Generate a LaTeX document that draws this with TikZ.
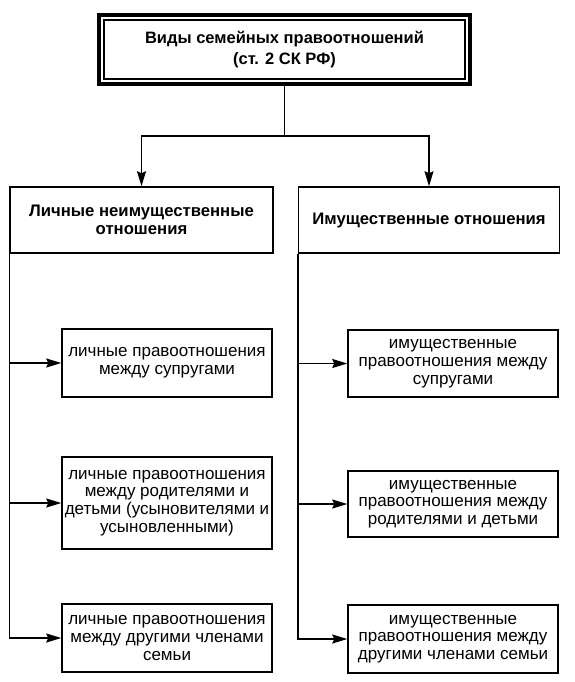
\documentclass[tikz,border=0pt]{standalone}
\usepackage{fontspec}
\setmainfont{Liberation Sans}
\usepackage{tikz}
\usetikzlibrary{arrows.meta,positioning}
\tikzset{
	>={Stealth[length=15pt,width=9pt,inset=2pt]}, % solid arrow heads
	root/.style={draw, line width=4pt, minimum width=371pt, minimum height=69pt,
		inner sep=0pt, align=center, font=\bfseries\fontsize{16.5}{21}\selectfont},
	kind/.style={draw, minimum height=66pt, inner sep=0pt,
		align=center, font=\bfseries\fontsize{16.7}{18.5}\selectfont},
	leaf/.style={draw, minimum width=210pt, inner sep=0pt,
		align=center, font=\fontsize{17}{17.8}\selectfont},
}

\begin{document}
\begin{tikzpicture}[x=1pt, y=1pt, line width=1.5pt]
      \useasboundingbox (0,0) rectangle (575,-682);

      \node[root] (title) at (284.5,-49.5) {Виды семейных правоотношений\\(ст. 2 СК РФ)};
      \draw[line width=1.1pt] ([shift={(7pt,-7pt)}]title.north west) rectangle ([shift={(-7pt,7pt)}]title.south east);

      \node[kind, minimum width=263pt] (lichn) at (141.5,-220) {Личные неимущественные\\отношения};
      \node[kind, minimum width=261pt, right=24pt of lichn] (imush) {Имущественные отношения};

      % personal relations
      \node[leaf, minimum height=68pt] (l1) at (167,-363) {личные правоотношения\\между супругами};
      \node[leaf, minimum height=92pt] (l2) at (167,-503) {личные правоотношения\\между родителями и\\детьми (усыновителями и\\усыновленными)};
      \node[leaf, minimum height=68pt] (l3) at (167,-638) {личные правоотношения\\между другими членами\\семьи};

      % property relations
      \node[leaf, minimum height=67pt] (r1) at (453,-363.5) {имущественные\\правоотношения между\\супругами};
      \node[leaf, minimum height=66pt] (r2) at (453,-504) {имущественные\\правоотношения между\\родителями и детьми};
      \node[leaf, minimum height=68pt] (r3) at (453,-639) {имущественные\\правоотношения между\\другими членами семьи};

      \coordinate (split) at (284.5,-136);
      \draw (title.south) -- (split);
      \draw[->] (split) -| (lichn.north);
      \draw[->] (split) -| (imush.north);

      \draw[->] (lichn.south west) |- (l3.west);
      \draw[->] (imush.south west) |- (r3.west);
      \foreach \n in {l1,l2}
        \draw[->] (lichn.south west |- \n.west) -- (\n.west);
      \foreach \n in {r1,r2}
        \draw[->] (imush.south west |- \n.west) -- (\n.west);
\end{tikzpicture}
\end{document}
